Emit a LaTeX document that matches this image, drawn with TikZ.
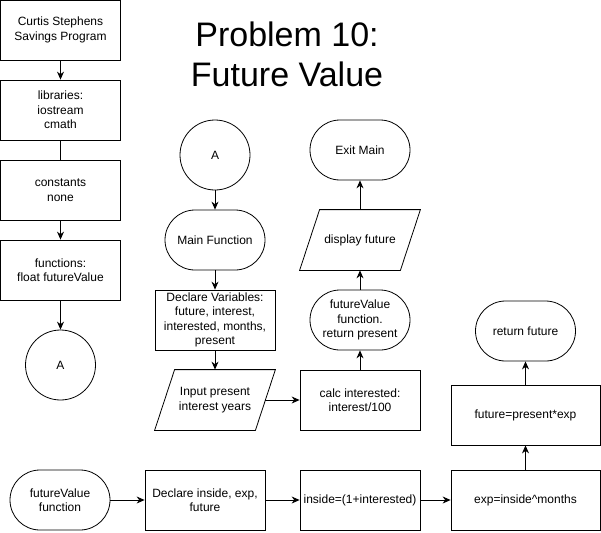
\documentclass[tikz,border=0pt]{standalone}
\usepackage{fontspec}
\setmainfont{Liberation Sans}
\usetikzlibrary{arrows.meta}

\begin{document}
\begin{tikzpicture}[x=1pt,y=-1pt,line width=0.8pt,
    txt/.style={font=\fontsize{12}{14.4}\selectfont,align=center,inner sep=2pt},
    box/.style={txt,draw,minimum height=60pt},
    term/.style={box,rounded corners=30pt,minimum width=100pt},
    conn/.style={txt,draw,circle,minimum size=70pt},
    io/.style={txt,minimum width=120pt,minimum height=60pt},
    arr/.style={-{Stealth[length=8pt,width=7pt]}}]
        \useasboundingbox (0,0) rectangle (601,532);
        \node[font=\fontsize{34}{40}\selectfont,align=center] (title) at (287,54.5) {Problem 10:\\Future Value};
        % plain boxes
        \foreach \name/\x/\y/\w/\t in {
        prog/60.5/30/120/{Curtis Stephens\\Savings Program},
        libs/60.5/110/120/{libraries:\\iostream\\cmath},
        consts/60.5/190/120/{constants\\none},
        funcs/60.5/270/120/{functions:\\float futureValue},
        declvars/215/320/120/{Declare Variables:\\future, interest,\\interested, months,\\present},
        calc/360/400/120/{calc interested:\\interest/100},
        declin/205/500/120/{Declare inside, exp,\\future},
        inside/360/500/120/{inside=(1+interested)},
        expo/525.5/500/149/{exp=inside\textasciicircum months},
        fut/525.5/415/149/{future=present*exp}}{
            \node[box,minimum width=\w pt] (\name) at (\x,\y) {\t};
        }
        \node[conn] (conA) at (60.5,365) {A};
        \node[conn] (conB) at (215,155) {A};
        \node[term] (mainfn) at (215,240) {Main Function};
        \node[term] (fvret) at (360,320) {futureValue\\function.\\return present};
        \node[term] (exitm) at (360,150) {Exit Main};
        \node[term] (retfut) at (525.5,331) {return future};
        \node[term] (fvfn) at (60,500) {futureValue\\function};
        \node[io] (input) at (215,400) {Input present\\interest years};
        \node[io] (disp) at (360,240) {display future};
        \foreach \n in {input,disp}{
            \draw([xshift=20pt]\n.north west)--(\n.north east)--([xshift=-20pt]\n.south east)--(\n.south west)--cycle;
        }
        % connectors
        \draw[arr](prog)--(libs);
        \draw(libs)--(consts);
        \draw[arr](consts)--(funcs);
        \draw[arr](funcs)--(conA);
        \draw[arr](conB)--(mainfn);
        \draw[arr](mainfn)--(declvars);
        \draw[arr](declvars)--(input);
        \draw[arr]([xshift=-10pt]input.east)--(calc.west);
        \draw[arr](calc)--(fvret);
        \draw[arr](fvret)--(disp);
        \draw[arr](disp)--(exitm);
        \draw[arr](fvfn)--(declin);
        \draw[arr](declin)--(inside);
        \draw[arr](inside)--(expo);
        \draw[arr](expo)--(fut);
        \draw[arr](fut)--(retfut);
    \end{tikzpicture}
\end{document}
